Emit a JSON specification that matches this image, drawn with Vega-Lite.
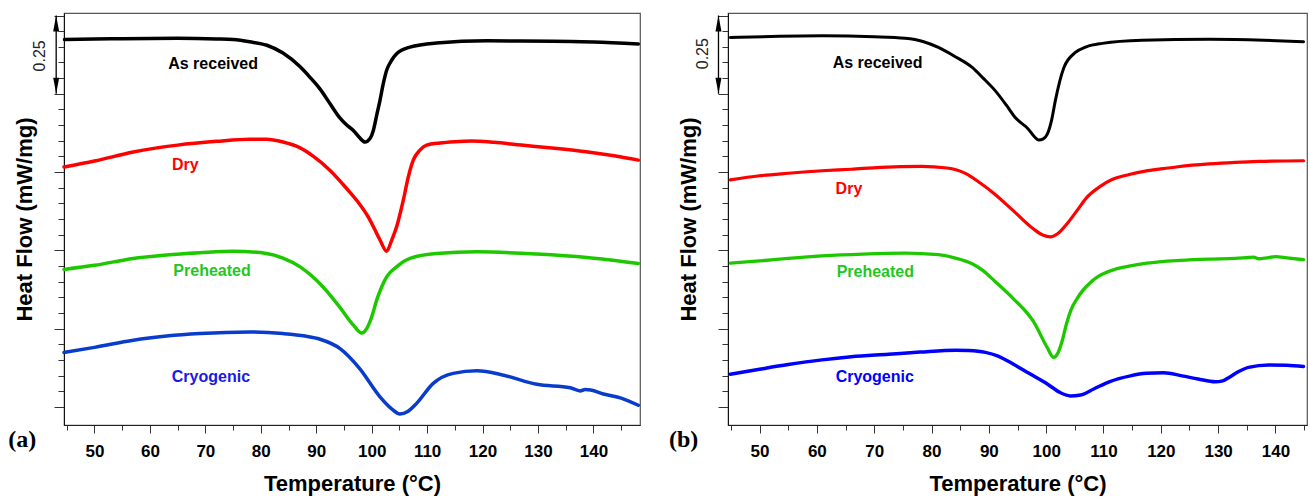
{
 "$schema": "https://vega.github.io/schema/vega-lite/v6.json",
 "background": "white",
 "padding": {"left": 7, "top": 12, "right": 0, "bottom": 0},
 "spacing": 27,
 "config": {"view": {"stroke": "#555", "strokeWidth": 1.2}, "axis": {"grid": false}, "font": "Liberation Sans"},
 "resolve": {"scale": {"color": "independent", "fill": "independent", "strokeWidth": "independent", "shape": "independent"}},
 "datasets": {
  "a_curves": [
   {"sample":"As received","T":44.6,"hf":1.173},{"sample":"As received","T":50,"hf":1.175},{"sample":"As received","T":55,"hf":1.176},{"sample":"As received","T":65,"hf":1.177},{"sample":"As received","T":72,"hf":1.175},{"sample":"As received","T":75,"hf":1.173},{"sample":"As received","T":78,"hf":1.166},{"sample":"As received","T":81.1,"hf":1.155},{"sample":"As received","T":84,"hf":1.13},{"sample":"As received","T":87.1,"hf":1.086},{"sample":"As received","T":89,"hf":1.05},{"sample":"As received","T":90.7,"hf":1.015},{"sample":"As received","T":92.5,"hf":0.968},{"sample":"As received","T":94.3,"hf":0.922},{"sample":"As received","T":95.5,"hf":0.9},{"sample":"As received","T":96.7,"hf":0.883},{"sample":"As received","T":97.8,"hf":0.86},{"sample":"As received","T":98.8,"hf":0.846},{"sample":"As received","T":99.7,"hf":0.857},{"sample":"As received","T":100.3,"hf":0.883},{"sample":"As received","T":100.9,"hf":0.931},{"sample":"As received","T":101.5,"hf":0.979},{"sample":"As received","T":102.1,"hf":1.033},{"sample":"As received","T":102.7,"hf":1.075},{"sample":"As received","T":103.6,"hf":1.107},{"sample":"As received","T":104.5,"hf":1.128},{"sample":"As received","T":106.9,"hf":1.149},{"sample":"As received","T":111.7,"hf":1.162},{"sample":"As received","T":120.8,"hf":1.169},{"sample":"As received","T":132.8,"hf":1.168},{"sample":"As received","T":140,"hf":1.165},{"sample":"As received","T":148.1,"hf":1.159},
   {"sample":"Dry","T":44.5,"hf":0.766},{"sample":"Dry","T":50,"hf":0.785},{"sample":"Dry","T":57,"hf":0.814},{"sample":"Dry","T":65,"hf":0.836},{"sample":"Dry","T":72,"hf":0.848},{"sample":"Dry","T":78,"hf":0.855},{"sample":"Dry","T":81,"hf":0.855},{"sample":"Dry","T":84,"hf":0.846},{"sample":"Dry","T":87,"hf":0.828},{"sample":"Dry","T":89.5,"hf":0.8},{"sample":"Dry","T":92.5,"hf":0.755},{"sample":"Dry","T":95.5,"hf":0.697},{"sample":"Dry","T":97.5,"hf":0.655},{"sample":"Dry","T":99.5,"hf":0.603},{"sample":"Dry","T":101.5,"hf":0.533},{"sample":"Dry","T":102.7,"hf":0.497},{"sample":"Dry","T":103.6,"hf":0.532},{"sample":"Dry","T":104.5,"hf":0.575},{"sample":"Dry","T":105.7,"hf":0.66},{"sample":"Dry","T":106.6,"hf":0.734},{"sample":"Dry","T":107.5,"hf":0.788},{"sample":"Dry","T":108.7,"hf":0.82},{"sample":"Dry","T":109.9,"hf":0.836},{"sample":"Dry","T":112.3,"hf":0.843},{"sample":"Dry","T":115,"hf":0.847},{"sample":"Dry","T":118,"hf":0.849},{"sample":"Dry","T":122,"hf":0.845},{"sample":"Dry","T":127,"hf":0.836},{"sample":"Dry","T":133,"hf":0.826},{"sample":"Dry","T":139,"hf":0.814},{"sample":"Dry","T":144,"hf":0.801},{"sample":"Dry","T":148.1,"hf":0.788},
   {"sample":"Preheated","T":44.5,"hf":0.439},{"sample":"Preheated","T":50,"hf":0.452},{"sample":"Preheated","T":57,"hf":0.474},{"sample":"Preheated","T":63,"hf":0.485},{"sample":"Preheated","T":69,"hf":0.492},{"sample":"Preheated","T":75,"hf":0.497},{"sample":"Preheated","T":81,"hf":0.49},{"sample":"Preheated","T":84,"hf":0.475},{"sample":"Preheated","T":87.1,"hf":0.447},{"sample":"Preheated","T":90,"hf":0.405},{"sample":"Preheated","T":92.5,"hf":0.357},{"sample":"Preheated","T":94.3,"hf":0.317},{"sample":"Preheated","T":96.7,"hf":0.261},{"sample":"Preheated","T":98.2,"hf":0.236},{"sample":"Preheated","T":99.1,"hf":0.25},{"sample":"Preheated","T":100,"hf":0.287},{"sample":"Preheated","T":100.9,"hf":0.341},{"sample":"Preheated","T":101.8,"hf":0.383},{"sample":"Preheated","T":102.7,"hf":0.415},{"sample":"Preheated","T":104.5,"hf":0.447},{"sample":"Preheated","T":106.9,"hf":0.474},{"sample":"Preheated","T":111.7,"hf":0.49},{"sample":"Preheated","T":119,"hf":0.495},{"sample":"Preheated","T":129.8,"hf":0.488},{"sample":"Preheated","T":138.8,"hf":0.477},{"sample":"Preheated","T":148.1,"hf":0.458},
   {"sample":"Cryogenic","T":44.5,"hf":0.174},{"sample":"Cryogenic","T":50,"hf":0.19},{"sample":"Cryogenic","T":57,"hf":0.213},{"sample":"Cryogenic","T":63,"hf":0.226},{"sample":"Cryogenic","T":69,"hf":0.234},{"sample":"Cryogenic","T":78,"hf":0.239},{"sample":"Cryogenic","T":84,"hf":0.234},{"sample":"Cryogenic","T":88,"hf":0.226},{"sample":"Cryogenic","T":90.7,"hf":0.216},{"sample":"Cryogenic","T":94.3,"hf":0.186},{"sample":"Cryogenic","T":97.8,"hf":0.123},{"sample":"Cryogenic","T":101.5,"hf":0.032},{"sample":"Cryogenic","T":103.5,"hf":-0.005},{"sample":"Cryogenic","T":105.1,"hf":-0.023},{"sample":"Cryogenic","T":106.5,"hf":-0.015},{"sample":"Cryogenic","T":108.1,"hf":0.011},{"sample":"Cryogenic","T":111.1,"hf":0.075},{"sample":"Cryogenic","T":114.7,"hf":0.107},{"sample":"Cryogenic","T":119,"hf":0.115},{"sample":"Cryogenic","T":123.8,"hf":0.101},{"sample":"Cryogenic","T":129.8,"hf":0.072},{"sample":"Cryogenic","T":135.8,"hf":0.061},{"sample":"Cryogenic","T":137.6,"hf":0.051},{"sample":"Cryogenic","T":138.5,"hf":0.055},{"sample":"Cryogenic","T":139.5,"hf":0.054},{"sample":"Cryogenic","T":141.8,"hf":0.041},{"sample":"Cryogenic","T":145,"hf":0.028},{"sample":"Cryogenic","T":148.1,"hf":0.005}
  ],
  "b_curves": [
   {"sample":"As received","T":44.9,"hf":1.18},{"sample":"As received","T":52,"hf":1.183},{"sample":"As received","T":61,"hf":1.185},{"sample":"As received","T":70,"hf":1.182},{"sample":"As received","T":75.4,"hf":1.177},{"sample":"As received","T":78.5,"hf":1.167},{"sample":"As received","T":81.2,"hf":1.148},{"sample":"As received","T":84,"hf":1.12},{"sample":"As received","T":87.1,"hf":1.084},{"sample":"As received","T":89,"hf":1.05},{"sample":"As received","T":91.1,"hf":1.01},{"sample":"As received","T":93,"hf":0.965},{"sample":"As received","T":94.6,"hf":0.924},{"sample":"As received","T":96.9,"hf":0.887},{"sample":"As received","T":98,"hf":0.862},{"sample":"As received","T":98.7,"hf":0.852},{"sample":"As received","T":99.5,"hf":0.856},{"sample":"As received","T":100.2,"hf":0.871},{"sample":"As received","T":101,"hf":0.92},{"sample":"As received","T":101.6,"hf":0.978},{"sample":"As received","T":103.1,"hf":1.084},{"sample":"As received","T":105.1,"hf":1.132},{"sample":"As received","T":107,"hf":1.15},{"sample":"As received","T":109.8,"hf":1.161},{"sample":"As received","T":116.7,"hf":1.171},{"sample":"As received","T":128.4,"hf":1.174},{"sample":"As received","T":138,"hf":1.171},{"sample":"As received","T":144.9,"hf":1.166},
   {"sample":"Dry","T":44.9,"hf":0.725},{"sample":"Dry","T":50,"hf":0.738},{"sample":"Dry","T":55,"hf":0.746},{"sample":"Dry","T":60.9,"hf":0.754},{"sample":"Dry","T":66,"hf":0.759},{"sample":"Dry","T":71.1,"hf":0.765},{"sample":"Dry","T":78.3,"hf":0.768},{"sample":"Dry","T":82.7,"hf":0.763},{"sample":"Dry","T":86,"hf":0.745},{"sample":"Dry","T":88.5,"hf":0.715},{"sample":"Dry","T":91,"hf":0.68},{"sample":"Dry","T":94.3,"hf":0.626},{"sample":"Dry","T":97.8,"hf":0.568},{"sample":"Dry","T":99.5,"hf":0.548},{"sample":"Dry","T":100.7,"hf":0.543},{"sample":"Dry","T":102,"hf":0.553},{"sample":"Dry","T":103.6,"hf":0.584},{"sample":"Dry","T":105.5,"hf":0.63},{"sample":"Dry","T":107.1,"hf":0.669},{"sample":"Dry","T":109.5,"hf":0.705},{"sample":"Dry","T":111.5,"hf":0.726},{"sample":"Dry","T":114.5,"hf":0.742},{"sample":"Dry","T":117.3,"hf":0.753},{"sample":"Dry","T":120,"hf":0.76},{"sample":"Dry","T":123,"hf":0.767},{"sample":"Dry","T":128.4,"hf":0.776},{"sample":"Dry","T":133,"hf":0.781},{"sample":"Dry","T":137.1,"hf":0.784},{"sample":"Dry","T":144.9,"hf":0.786},
   {"sample":"Preheated","T":44.9,"hf":0.459},{"sample":"Preheated","T":50,"hf":0.466},{"sample":"Preheated","T":55,"hf":0.474},{"sample":"Preheated","T":60.9,"hf":0.482},{"sample":"Preheated","T":68,"hf":0.488},{"sample":"Preheated","T":75.4,"hf":0.491},{"sample":"Preheated","T":81.2,"hf":0.486},{"sample":"Preheated","T":84,"hf":0.476},{"sample":"Preheated","T":87.1,"hf":0.457},{"sample":"Preheated","T":89,"hf":0.435},{"sample":"Preheated","T":91,"hf":0.402},{"sample":"Preheated","T":94.3,"hf":0.345},{"sample":"Preheated","T":97.8,"hf":0.272},{"sample":"Preheated","T":100.2,"hf":0.189},{"sample":"Preheated","T":101.3,"hf":0.158},{"sample":"Preheated","T":102,"hf":0.17},{"sample":"Preheated","T":102.8,"hf":0.211},{"sample":"Preheated","T":103.5,"hf":0.262},{"sample":"Preheated","T":104.3,"hf":0.308},{"sample":"Preheated","T":105.4,"hf":0.346},{"sample":"Preheated","T":106.4,"hf":0.372},{"sample":"Preheated","T":107.6,"hf":0.395},{"sample":"Preheated","T":108.9,"hf":0.414},{"sample":"Preheated","T":111.8,"hf":0.438},{"sample":"Preheated","T":114.7,"hf":0.45},{"sample":"Preheated","T":117.6,"hf":0.459},{"sample":"Preheated","T":123.4,"hf":0.468},{"sample":"Preheated","T":128.4,"hf":0.472},{"sample":"Preheated","T":133,"hf":0.474},{"sample":"Preheated","T":135.3,"hf":0.477},{"sample":"Preheated","T":136.2,"hf":0.478},{"sample":"Preheated","T":137.1,"hf":0.473},{"sample":"Preheated","T":138.5,"hf":0.476},{"sample":"Preheated","T":140,"hf":0.48},{"sample":"Preheated","T":142,"hf":0.476},{"sample":"Preheated","T":144.9,"hf":0.47},
   {"sample":"Cryogenic","T":44.9,"hf":0.104},{"sample":"Cryogenic","T":50,"hf":0.12},{"sample":"Cryogenic","T":55,"hf":0.135},{"sample":"Cryogenic","T":60.9,"hf":0.15},{"sample":"Cryogenic","T":66,"hf":0.16},{"sample":"Cryogenic","T":72.5,"hf":0.168},{"sample":"Cryogenic","T":78,"hf":0.175},{"sample":"Cryogenic","T":84.2,"hf":0.181},{"sample":"Cryogenic","T":86.5,"hf":0.18},{"sample":"Cryogenic","T":89.4,"hf":0.174},{"sample":"Cryogenic","T":91.5,"hf":0.163},{"sample":"Cryogenic","T":94.3,"hf":0.136},{"sample":"Cryogenic","T":97,"hf":0.107},{"sample":"Cryogenic","T":100.2,"hf":0.073},{"sample":"Cryogenic","T":102.5,"hf":0.045},{"sample":"Cryogenic","T":104.2,"hf":0.035},{"sample":"Cryogenic","T":106,"hf":0.038},{"sample":"Cryogenic","T":108.3,"hf":0.057},{"sample":"Cryogenic","T":111,"hf":0.08},{"sample":"Cryogenic","T":114.7,"hf":0.099},{"sample":"Cryogenic","T":117.5,"hf":0.107},{"sample":"Cryogenic","T":120.5,"hf":0.109},{"sample":"Cryogenic","T":123.7,"hf":0.099},{"sample":"Cryogenic","T":126.5,"hf":0.089},{"sample":"Cryogenic","T":129.5,"hf":0.08},{"sample":"Cryogenic","T":130.8,"hf":0.083},{"sample":"Cryogenic","T":131.9,"hf":0.094},{"sample":"Cryogenic","T":133.5,"hf":0.112},{"sample":"Cryogenic","T":135.3,"hf":0.126},{"sample":"Cryogenic","T":138.8,"hf":0.134},{"sample":"Cryogenic","T":142,"hf":0.133},{"sample":"Cryogenic","T":144.9,"hf":0.129}
  ],
  "a_labels": [
   {"sample":"As received","T":71.4,"hf":1.094},{"sample":"Dry","T":66.4,"hf":0.771},{"sample":"Preheated","T":71.2,"hf":0.434},{"sample":"Cryogenic","T":71.0,"hf":0.094}
  ],
  "b_labels": [
   {"sample":"As received","T":70.6,"hf":1.097},{"sample":"Dry","T":65.6,"hf":0.697},{"sample":"Preheated","T":70.2,"hf":0.432},{"sample":"Cryogenic","T":70.1,"hf":0.094}
  ],
  "a_bar": [{"T":43.09,"hf":1.0,"hf2":1.25}],
  "b_bar": [{"T":42.84,"hf":1.0,"hf2":1.25}],
  "a_arrows": [{"T":43.09,"hf":1.25,"dir":"up"},{"T":43.09,"hf":1.0,"dir":"down"}],
  "b_arrows": [{"T":42.84,"hf":1.25,"dir":"up"},{"T":42.84,"hf":1.0,"dir":"down"}],
  "a_scale": [{"T":40.21,"hf":1.121,"label":"0.25"}],
  "b_scale": [{"T":40.17,"hf":1.128,"label":"0.25"}],
  "a_tag": [{"T":36.96,"hf":-0.127,"label":"(a)"}],
  "b_tag": [{"T":36.77,"hf":-0.129,"label":"(b)"}]
 },
 "hconcat": [
  {
   "width": 576, "height": 412,
   "layer": [
    {"data": {"name": "a_curves"},
     "mark": {"type": "line", "interpolate": "monotone", "strokeWidth": 3.5, "strokeCap": "round", "strokeJoin": "round"},
     "encoding": {
      "x": {"field": "T", "type": "quantitative", "scale": {"domain": [44.5, 148.4], "nice": false, "zero": false},
       "axis": {"values": [45,50,55,60,65,70,75,80,85,90,95,100,105,110,115,120,125,130,135,140,145], "tickCount": 200, "format": "d", "labelExpr": "datum.value % 10 === 0 ? datum.label : ''", "tickSize": {"condition": {"test": "datum.value % 10 === 0", "value": 8}, "value": 5}, "labelFont": "Liberation Sans", "labelFontSize": 17, "labelFontWeight": "bold", "labelColor": "black", "labelPadding": 10, "labelOverlap": false, "labelFlush": false, "tickColor": "#333", "domainColor": "#222", "title": "Temperature (°C)", "titleFont": "Liberation Sans", "titleFontSize": 22, "titleFontWeight": "bold", "titleColor": "black", "titleY": 65.5, "titleBaseline": "alphabetic", "grid": false}},
      "y": {"field": "hf", "type": "quantitative", "scale": {"domain": [-0.058, 1.258], "nice": false, "zero": false},
       "axis": {"values": [0,0.05,0.1,0.15,0.2,0.25,0.3,0.35,0.4,0.45,0.5,0.55,0.6,0.65,0.7,0.75,0.8,0.85,0.9,0.95,1,1.05,1.1,1.15,1.2,1.25], "tickCount": 200, "labels": false, "tickSize": {"condition": {"test": "abs(datum.value*4 - round(datum.value*4)) < 0.01", "value": 10}, "value": 6}, "tickColor": "#333", "domainColor": "#111", "title": "Heat Flow (mW/mg)", "titleFont": "Liberation Sans", "titleFontSize": 22, "titleFontWeight": "bold", "titleColor": "black", "titleX": -32.5, "titleY": 206, "titleAngle": 270, "titleAlign": "center", "titleBaseline": "alphabetic", "grid": false}},
      "color": {"field": "sample", "type": "nominal", "scale": {"domain": ["As received","Dry","Preheated","Cryogenic"], "range": ["#000000","#ff0000","#1ec800","#0a3ccc"]}, "legend": null}
     }},
    {"data": {"name": "a_labels"},
     "mark": {"type": "text", "font": "Liberation Sans", "fontWeight": "bold", "fontSize": 16, "align": "center", "baseline": "middle"},
     "encoding": {"x": {"field": "T", "type": "quantitative"}, "y": {"field": "hf", "type": "quantitative"}, "text": {"field": "sample"},
      "fill": {"field": "sample", "type": "nominal", "scale": {"domain": ["As received","Dry","Preheated","Cryogenic"], "range": ["#000000","#ff0000","#1ec81e","#1a1ae6"]}, "legend": null}}},
    {"data": {"name": "a_bar"},
     "mark": {"type": "rule", "color": "black", "strokeWidth": 1.3},
     "encoding": {"x": {"field": "T", "type": "quantitative"}, "y": {"field": "hf", "type": "quantitative"}, "y2": {"field": "hf2"}}},
    {"data": {"name": "a_arrows"},
     "mark": {"type": "point", "filled": true, "color": "black", "opacity": 1, "size": 256, "strokeWidth": 0},
     "encoding": {"x": {"field": "T", "type": "quantitative"}, "y": {"field": "hf", "type": "quantitative"},
      "shape": {"field": "dir", "type": "nominal", "scale": {"domain": ["up","down"], "range": ["M0,0L0.375,2L-0.375,2Z","M0,0L0.375,-2L-0.375,-2Z"]}, "legend": null}}},
    {"data": {"name": "a_scale"},
     "mark": {"type": "text", "font": "Liberation Sans", "fontSize": 16, "angle": 270, "align": "center", "baseline": "middle", "color": "#222"},
     "encoding": {"x": {"field": "T", "type": "quantitative"}, "y": {"field": "hf", "type": "quantitative"}, "text": {"field": "label"}}},
    {"data": {"name": "a_tag"},
     "mark": {"type": "text", "font": "Liberation Serif", "fontWeight": "bold", "fontSize": 24, "align": "center", "baseline": "alphabetic", "color": "black"},
     "encoding": {"x": {"field": "T", "type": "quantitative"}, "y": {"field": "hf", "type": "quantitative"}, "text": {"field": "label"}}}
   ]
  },
  {
   "width": 579, "height": 412,
   "layer": [
    {"data": {"name": "b_curves"},
     "mark": {"type": "line", "interpolate": "monotone", "strokeCap": "round", "strokeJoin": "round"},
     "encoding": {
      "x": {"field": "T", "type": "quantitative", "scale": {"domain": [44.5, 145.5], "nice": false, "zero": false},
       "axis": {"values": [45,50,55,60,65,70,75,80,85,90,95,100,105,110,115,120,125,130,135,140,145], "tickCount": 200, "format": "d", "labelExpr": "datum.value % 10 === 0 ? datum.label : ''", "tickSize": {"condition": {"test": "datum.value % 10 === 0", "value": 8}, "value": 5}, "labelFont": "Liberation Sans", "labelFontSize": 17, "labelFontWeight": "bold", "labelColor": "black", "labelPadding": 10, "labelOverlap": false, "labelFlush": false, "tickColor": "#333", "domainColor": "#222", "title": "Temperature (°C)", "titleFont": "Liberation Sans", "titleFontSize": 22, "titleFontWeight": "bold", "titleColor": "black", "titleY": 65.5, "titleBaseline": "alphabetic", "grid": false}},
      "y": {"field": "hf", "type": "quantitative", "scale": {"domain": [-0.058, 1.258], "nice": false, "zero": false},
       "axis": {"values": [0,0.05,0.1,0.15,0.2,0.25,0.3,0.35,0.4,0.45,0.5,0.55,0.6,0.65,0.7,0.75,0.8,0.85,0.9,0.95,1,1.05,1.1,1.15,1.2,1.25], "tickCount": 200, "labels": false, "tickSize": {"condition": {"test": "abs(datum.value*4 - round(datum.value*4)) < 0.01", "value": 10}, "value": 6}, "tickColor": "#333", "domainColor": "#111", "title": "Heat Flow (mW/mg)", "titleFont": "Liberation Sans", "titleFontSize": 22, "titleFontWeight": "bold", "titleColor": "black", "titleX": -32.5, "titleY": 206, "titleAngle": 270, "titleAlign": "center", "titleBaseline": "alphabetic", "grid": false}},
      "color": {"field": "sample", "type": "nominal", "scale": {"domain": ["As received","Dry","Preheated","Cryogenic"], "range": ["#000000","#ff0000","#1ec800","#0000ff"]}, "legend": null},
      "strokeWidth": {"field": "sample", "type": "nominal", "scale": {"domain": ["As received","Dry","Preheated","Cryogenic"], "range": [3,3.5,1.5,4.2]}, "legend": null}
     }},
    {"data": {"name": "b_labels"},
     "mark": {"type": "text", "font": "Liberation Sans", "fontWeight": "bold", "fontSize": 16, "align": "center", "baseline": "middle"},
     "encoding": {"x": {"field": "T", "type": "quantitative"}, "y": {"field": "hf", "type": "quantitative"}, "text": {"field": "sample"},
      "fill": {"field": "sample", "type": "nominal", "scale": {"domain": ["As received","Dry","Preheated","Cryogenic"], "range": ["#000000","#ff0000","#1ec81e","#0000ff"]}, "legend": null}}},
    {"data": {"name": "b_bar"},
     "mark": {"type": "rule", "color": "black", "strokeWidth": 1.3},
     "encoding": {"x": {"field": "T", "type": "quantitative"}, "y": {"field": "hf", "type": "quantitative"}, "y2": {"field": "hf2"}}},
    {"data": {"name": "b_arrows"},
     "mark": {"type": "point", "filled": true, "color": "black", "opacity": 1, "size": 256, "strokeWidth": 0},
     "encoding": {"x": {"field": "T", "type": "quantitative"}, "y": {"field": "hf", "type": "quantitative"},
      "shape": {"field": "dir", "type": "nominal", "scale": {"domain": ["up","down"], "range": ["M0,0L0.375,2L-0.375,2Z","M0,0L0.375,-2L-0.375,-2Z"]}, "legend": null}}},
    {"data": {"name": "b_scale"},
     "mark": {"type": "text", "font": "Liberation Sans", "fontSize": 16, "angle": 270, "align": "center", "baseline": "middle", "color": "#222"},
     "encoding": {"x": {"field": "T", "type": "quantitative"}, "y": {"field": "hf", "type": "quantitative"}, "text": {"field": "label"}}},
    {"data": {"name": "b_tag"},
     "mark": {"type": "text", "font": "Liberation Serif", "fontWeight": "bold", "fontSize": 24, "align": "center", "baseline": "alphabetic", "color": "black"},
     "encoding": {"x": {"field": "T", "type": "quantitative"}, "y": {"field": "hf", "type": "quantitative"}, "text": {"field": "label"}}}
   ]
  }
 ]
}
